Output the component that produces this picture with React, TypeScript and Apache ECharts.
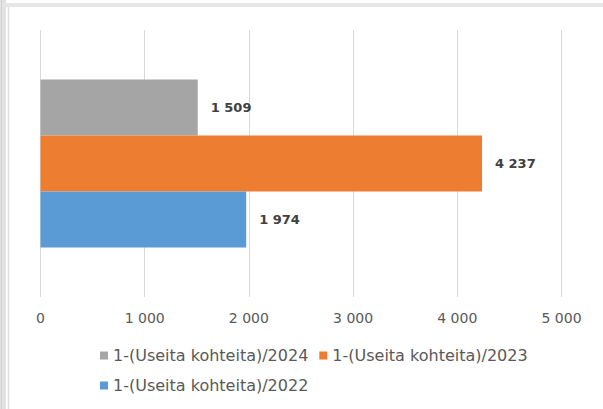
import React, { useEffect, useRef } from "react";
import * as echarts from "echarts";

const categories = [""];
const seriesNames = [
  "1-(Useita kohteita)/2024",
  "1-(Useita kohteita)/2023",
  "1-(Useita kohteita)/2022",
];
const values2024 = [1509];
const values2023 = [4237];
const values2022 = [1974];
const seriesColors = ["#A5A5A5", "#ED7D31", "#5B9BD5"];
const xTicks = [0, 1000, 2000, 3000, 4000, 5000];

const fmt = (v: number) =>
  String(Math.round(v)).replace(/\B(?=(\d{3})+(?!\d))/g, " ");

export default function App() {
  const ref = useRef<HTMLDivElement>(null);
  useEffect(() => {
    if (!ref.current) return;
    const chart = echarts.init(ref.current, null, { renderer: "svg" });
    const font = "'DejaVu Sans', sans-serif";
    const seriesValues = [values2024, values2023, values2022];
    const legendCommon = {
      orient: "horizontal" as const,
      left: 100,
      padding: 0,
      itemWidth: 8,
      itemHeight: 8,
      itemGap: 11,
      icon: "rect",
      textStyle: { color: "#595959", fontSize: 16, fontFamily: font },
    };
    chart.setOption({
      animation: false,
      backgroundColor: "#ffffff",
      grid: { left: 40.5, right: 41.5, top: 30, bottom: 112 },
      legend: [
        { ...legendCommon, top: 347.5, data: [seriesNames[0], seriesNames[1]] },
        { ...legendCommon, top: 377.5, data: [seriesNames[2]] },
      ],
      xAxis: {
        type: "value",
        min: xTicks[0],
        max: xTicks[xTicks.length - 1],
        interval: 1000,
        axisLine: { show: false },
        axisTick: { show: false },
        splitLine: { show: true, lineStyle: { color: "#d9d9d9", width: 1 } },
        axisLabel: {
          color: "#595959",
          fontSize: 14,
          fontFamily: font,
          margin: 14,
          formatter: (v: number) => fmt(v),
        },
      },
      yAxis: {
        type: "category",
        data: categories,
        axisLine: { show: false },
        axisTick: { show: false },
        axisLabel: { show: false },
      },
      series: seriesNames.map((name, i) => ({
        name,
        type: "bar",
        data: seriesValues[i],
        barGap: "0%",
        barCategoryGap: "37%",
        itemStyle: { color: seriesColors[i] },
        label: {
          show: true,
          position: "right",
          distance: 13,
          color: "#404040",
          fontSize: 13,
          fontWeight: "bold",
          fontFamily: font,
          formatter: (p: any) => fmt(p.value),
        },
      })),
      graphic: [
        { type: "rect", shape: { x: 0, y: 0, width: 6, height: 409 }, style: { fill: "#e2e2e2" }, silent: true },
        { type: "rect", shape: { x: 0, y: 3, width: 603, height: 4 }, style: { fill: "#e6e6e6" }, silent: true },
        { type: "line", shape: { x1: 8.5, y1: 7, x2: 8.5, y2: 409 }, style: { stroke: "#e0e0e0", lineWidth: 1.5 }, silent: true },
        { type: "line", shape: { x1: 1.5, y1: 0, x2: 1.5, y2: 409 }, style: { stroke: "#d0d0d0", lineWidth: 1 }, silent: true },
      ],
    });
    return () => chart.dispose();
  }, []);
  return (
    <div
      ref={ref}
      style={{ position: "fixed", left: 0, top: 0, width: 603, height: 409 }}
    />
  );
}
